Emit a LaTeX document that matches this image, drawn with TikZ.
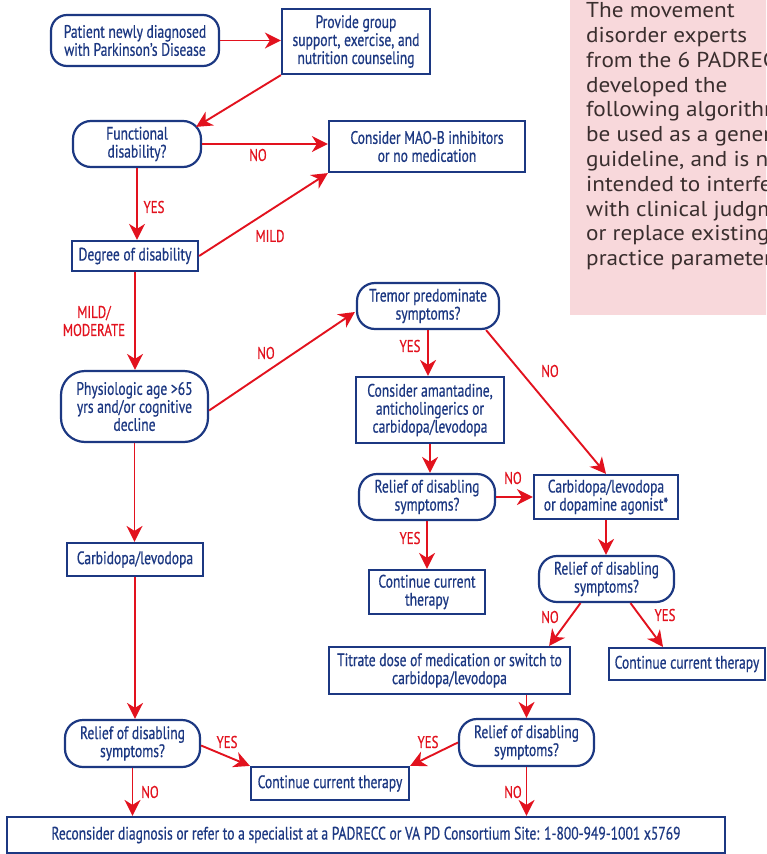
\documentclass[tikz,border=0pt]{standalone}
\usepackage{fontspec}
\setmainfont{PT Sans}
\newfontfamily\condfont{PT Sans}[FakeStretch=0.755,FakeBold=0.6]
\newfontfamily\notefont{PT Sans}[FakeStretch=1.08]
\usetikzlibrary{arrows.meta,calc}
\definecolor{navy}{RGB}{28,56,130}
\definecolor{arrred}{RGB}{226,18,30}
\definecolor{pinkbg}{RGB}{248,216,219}
\definecolor{notetext}{RGB}{58,46,46}
\begin{document}
\begin{tikzpicture}[x=1pt,y=-1pt,
  box/.style={draw=navy, line width=2.2pt, text=navy, fill=white,
    font=\condfont\fontsize{18}{18}\selectfont, align=center, inner sep=0pt},
  rbox/.style={box, rounded corners=18pt},
  arr/.style={draw=arrred, line width=1.9pt, -{Stealth[length=16pt,width=16pt,inset=5pt]}},
  lbl/.style={text=arrred, font=\condfont\fontsize{17}{18}\selectfont, inner sep=0pt, align=center},
  note/.style={text=notetext, font=\notefont\fontsize{21.5}{24.8}\selectfont, align=left, inner sep=0pt}]
\useasboundingbox (0,0) rectangle (766,854);
\clip (0,0) rectangle (766,854);
\fill[pinkbg] (570,-2) rectangle (770,315);
\node[note, anchor=north west] (note) at (586,2.5) {The movement\\disorder experts\\from the 6 PADRECC\\developed the\\following algorithm\\be used as a general\\guideline, and is not\\intended to interfere\\with clinical judgment\\or replace existing\\practice parameters.};

\node[rbox, minimum width=168pt, minimum height=51pt, rounded corners=16pt] (start) at (135,40.5) {Patient newly diagnosed\\with Parkinson’s Disease};
\node[box, minimum width=148pt, minimum height=65pt] (grp) at (356,41.5) {Provide group\\support, exercise, and\\nutrition counseling};
\node[rbox, minimum width=128pt, minimum height=46pt] (func) at (137,144) {Functional\\disability?};
\node[box, minimum width=196pt, minimum height=51pt] (mao) at (427,146.5) {Consider MAO-B inhibitors\\or no medication};
\node[box, minimum width=126pt, minimum height=30pt] (deg) at (135,256) {Degree of disability};
\node[rbox, minimum width=147pt, minimum height=71pt, rounded corners=24pt] (phys) at (134.5,406.5) {Physiologic age >65\\yrs and/or cognitive\\decline};
\node[box, minimum width=136pt, minimum height=33pt] (carb) at (135,559.5) {Carbidopa/levodopa};
\node[rbox, minimum width=142pt, minimum height=46pt] (trem) at (428,306) {Tremor predominate\\symptoms?};
\node[box, minimum width=148pt, minimum height=66pt] (amant) at (430,410) {Consider amantadine,\\anticholingerics or\\carbidopa/levodopa};
\node[rbox, minimum width=136pt, minimum height=46pt] (rel1) at (427,497) {Relief of disabling\\symptoms?};
\node[box, minimum width=144pt, minimum height=44pt] (cda) at (606,497) {Carbidopa/levodopa\\or dopamine agonist*};
\node[box, minimum width=116pt, minimum height=44pt] (cont1) at (427,592) {Continue current\\therapy};
\node[rbox, minimum width=135pt, minimum height=46pt] (rel2) at (606.5,579) {Relief of disabling\\symptoms?};
\node[box, minimum width=241pt, minimum height=47pt] (titr) at (449.5,670.5) {Titrate dose of medication or switch to\\carbidopa/levodopa};
\node[box, minimum width=156pt, minimum height=32pt] (cont2) at (687,664) {Continue current therapy};
\node[rbox, minimum width=135pt, minimum height=47pt] (rel3) at (132.5,743.5) {Relief of disabling\\symptoms?};
\node[box, minimum width=158pt, minimum height=33pt] (cont3) at (330,783.5) {Continue current therapy};
\node[rbox, minimum width=135pt, minimum height=47pt] (rel4) at (526.5,742.5) {Relief of disabling\\symptoms?};
\node[box, minimum width=718pt, minimum height=36pt] (recon) at (366,835) {Reconsider diagnosis or refer to a specialist at a PADRECC or VA PD Consortium Site: 1-800-949-1001 x5769};

\draw[arr] (start.east) -- (start.east -| grp.west);
\draw[arr] (grp.south west) -- ([xshift=-6pt,yshift=-7pt]func.north east);
\draw[arr] (func.east) -- (func.east -| mao.west);
\draw[arr] (func.south) -- (func.south |- deg.north);
\draw[arr] (deg.east) -- (mao.south west);
\draw[arr] (deg.south) -- (deg.south |- phys.north);
\draw[arr] ([yshift=-4pt]phys.east) -- ([yshift=-6pt,xshift=-1pt]trem.west);
\draw[arr] (phys.south) -- (phys.south |- carb.north);
\draw[arr] (trem.south) -- (trem.south |- amant.north);
\draw[arr] ([xshift=-14pt]trem.south east) -- (cda.north);
\draw[arr] (amant.south) -- (amant.south |- rel1.north);
\draw[arr] (rel1.east) -- (cda.west);
\draw[arr] (rel1.south) -- (rel1.south |- cont1.north);
\draw[arr] (cda.south) -- (cda.south |- rel2.north);
\draw[arr] ([xshift=-26pt]rel2.south) -- ([xshift=-22pt]titr.north east);
\draw[arr] ([xshift=24pt]rel2.south) -- ([xshift=-24pt]cont2.north);
\draw[arr] (carb.south) -- (carb.south |- rel3.north);
\draw[arr] ([yshift=-2pt]rel3.east) -- (cont3.north west);
\draw[arr] (rel4.west) -- (cont3.north east);
\draw[arr] (rel4.north |- titr.south) -- (rel4.north);
\draw[arr] (rel3.south) -- (rel3.south |- recon.north);
\draw[arr] (rel4.south) -- (rel4.south |- recon.north);

\node[lbl] (lno1) at (258,155) {NO};
\node[lbl] (lyes1) at (154,207) {YES};
\node[lbl] (lmild) at (270,236) {MILD};
\node[lbl] (lmm) at (94,321) {MILD/\\MODERATE};
\node[lbl] (lno2) at (266,353) {NO};
\node[lbl] (lyes2) at (410,346) {YES};
\node[lbl] (lno3) at (550,371) {NO};
\node[lbl] (lno4) at (513,478) {NO};
\node[lbl] (lyes3) at (410,538) {YES};
\node[lbl] (lno5) at (550,617) {NO};
\node[lbl] (lyes4) at (665,615) {YES};
\node[lbl] (lyes5) at (227,742) {YES};
\node[lbl] (lyes6) at (428,742) {YES};
\node[lbl] (lno6) at (150,792) {NO};
\node[lbl] (lno7) at (513,792) {NO};
\end{tikzpicture}
\end{document}
